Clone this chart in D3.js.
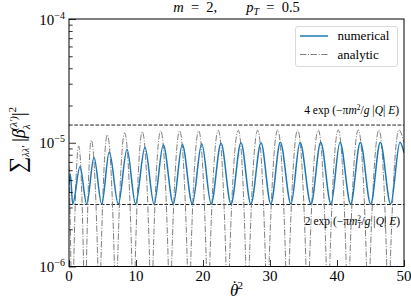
<!DOCTYPE html>
<html>
<head>
<meta charset="utf-8">
<script src="https://cdnjs.cloudflare.com/ajax/libs/d3/7.8.5/d3.min.js"></script>
<style>
	body { margin: 0; background: #fff; }
	text { font-family: 'Liberation Serif', 'DejaVu Serif', serif; fill: #000; }
	.axis path { display: none; }
	.axis line { stroke: #000; stroke-width: 0.8; }
</style>
</head>
<body>
<div id="chart"></div>
<script>
// |beta|^2 vs theta-dot^2, numerical vs analytic

var numericalX = [0, 0.2, 0.55,
	1.64, 2.64, 3.73, 4.88, 6.01, 7.36, 8.66, 9.93, 11.34, 12.69,
	14.07, 15.57, 16.91, 18.40, 19.81, 21.22, 22.69, 24.18, 25.67, 27.14,
	28.66, 30.12, 31.54, 33.13, 34.48, 36.12, 37.57, 39.10, 40.45, 42.04,
	43.48, 45.03, 46.46, 48.01, 49.40, 50]
var numericalY = [4.6e-6, 5.6e-6, 3.2e-6,
	6.4e-6, 3.2e-6, 7.6e-6, 3.2e-6, 8.4e-6, 3.2e-6, 8.85e-6, 3.2e-6, 9.2e-6, 3.2e-6,
	9.6e-6, 3.2e-6, 9.7e-6, 3.2e-6, 9.8e-6, 3.2e-6, 9.9e-6, 3.2e-6, 1.0e-5, 3.2e-6,
	1.0e-5, 3.2e-6, 1.01e-5, 3.2e-6, 1.01e-5, 3.2e-6, 1.01e-5, 3.2e-6, 1.01e-5, 3.2e-6,
	1.01e-5, 3.2e-6, 1.01e-5, 3.2e-6, 1.01e-5, 8.3e-6]

var analyticX = [0, 0.30, 0.49,
	0.68, 1.45, 2.20, 2.39,
	2.60, 3.33, 4.31, 4.52,
	4.77, 5.72, 6.76, 7.01,
	7.27, 8.31, 9.37, 9.63,
	9.90, 10.94, 12.02, 12.28,
	12.56, 13.69, 14.79, 15.07,
	15.35, 16.52, 17.63, 17.91,
	18.19, 19.36, 20.47, 20.75,
	21.04, 22.28, 23.40, 23.69,
	23.98, 25.27, 26.35, 26.64,
	26.94, 28.16, 29.30, 29.60,
	29.90, 31.15, 32.31, 32.61,
	32.91, 34.13, 35.33, 35.63,
	35.93, 37.21, 38.36, 38.66,
	38.96, 40.19, 41.34, 41.64,
	41.94, 43.18, 44.37, 44.67,
	44.97, 46.27, 47.39, 47.69,
	47.99, 49.25, 50]
var analyticY = [6.5e-6, 9e-7, 1e-7,
	9e-7, 9.4e-6, 9e-7, 1e-7,
	1.0e-6, 1.05e-5, 1.0e-6, 1e-7,
	1.11e-6, 1.16e-5, 1.11e-6, 1e-7,
	1.15e-6, 1.2e-5, 1.15e-6, 1e-7,
	1.17e-6, 1.23e-5, 1.17e-6, 1e-7,
	1.19e-6, 1.25e-5, 1.19e-6, 1e-7,
	1.19e-6, 1.25e-5, 1.19e-6, 1e-7,
	1.19e-6, 1.25e-5, 1.19e-6, 1e-7,
	1.2e-6, 1.26e-5, 1.2e-6, 1e-7,
	1.2e-6, 1.26e-5, 1.2e-6, 1e-7,
	1.2e-6, 1.26e-5, 1.2e-6, 1e-7,
	1.21e-6, 1.27e-5, 1.21e-6, 1e-7,
	1.21e-6, 1.27e-5, 1.21e-6, 1e-7,
	1.21e-6, 1.27e-5, 1.21e-6, 1e-7,
	1.21e-6, 1.27e-5, 1.21e-6, 1e-7,
	1.21e-6, 1.27e-5, 1.21e-6, 1e-7,
	1.21e-6, 1.27e-5, 1.21e-6, 1e-7,
	1.21e-6, 1.27e-5, 1.0e-5]

var boundValues = [1.39e-5, 3.17e-6]
var xTicks = [0, 10, 20, 30, 40, 50]
var yTicks = [1e-4, 1e-5, 1e-6]
var yTickExp = ['\u22124', '\u22125', '\u22126']
var legendLabels = ['numerical', 'analytic']

var width = 411,
	height = 300,
	plotLeft = 69,
	plotRight = 404,
	plotTop = 19,
	plotBottom = 266.5,
	blue = '#1f77b4',
	gray = '#7f7f7f'

var x = d3.scaleLinear().domain([0, 50]).range([plotLeft, plotRight])
var y = d3.scaleLog().domain([1e-6, 1e-4]).range([plotBottom, plotTop])

var svg = d3.select('#chart').append('svg')
	.attr('width', width)
	.attr('height', height)

svg.append('clipPath').attr('id', 'clip')
	.append('rect')
	.attr('x', plotLeft).attr('y', plotTop)
	.attr('width', plotRight - plotLeft).attr('height', plotBottom - plotTop)

var line = d3.line()
	.x(function(d) { return x(d[0]) })
	.y(function(d) { return y(d[1]) })
	.curve(d3.curveMonotoneX)

var plot = svg.append('g').attr('clip-path', 'url(#clip)')

// bound lines
plot.selectAll('line.bound').data(boundValues)
	.enter().append('line')
	.classed('bound', true)
	.attr('x1', plotLeft).attr('x2', plotRight)
	.attr('y1', function(d) { return y(d) })
	.attr('y2', function(d) { return y(d) })
	.style('stroke', '#222')
	.style('stroke-width', 1)
	.style('stroke-dasharray', '3.7,1.6')

// annotations
function expLabel(sel, pre, sub) {
	sel.append('tspan').text(pre + ' exp (\u2212\u03c0')
	sel.append('tspan').style('font-style', 'italic').text('m')
	sel.append('tspan').attr('dy', -4).style('font-size', '7.5px').text('2')
	if (sub) {
		sel.append('tspan').attr('dx', -3.8).attr('dy', 7).style('font-size', '7.5px').style('font-style', 'italic').text(sub)
		sel.append('tspan').attr('dy', -3).text('/')
	} else {
		sel.append('tspan').attr('dy', 4).text('/')
	}
	sel.append('tspan').style('font-style', 'italic').text('g')
	sel.append('tspan').text(' |')
	sel.append('tspan').style('font-style', 'italic').text('Q')
	sel.append('tspan').text('| ')
	sel.append('tspan').style('font-style', 'italic').text('E')
	sel.append('tspan').text(')')
}

svg.append('text')
	.attr('x', 399).attr('y', 114)
	.attr('text-anchor', 'end')
	.style('font-size', '11.5px')
	.call(expLabel, '4', null)

svg.append('text')
	.attr('x', 400).attr('y', 224.5)
	.attr('text-anchor', 'end')
	.style('font-size', '11.5px')
	.call(expLabel, '2', 'T')

plot.append('path')
	.datum(analyticX.map(function(v, i) { return [v, analyticY[i]] }))
	.attr('d', line)
	.style('fill', 'none')
	.style('stroke', gray)
	.style('stroke-width', 1)
	.style('stroke-dasharray', '6.4,1.6,1,1.6')

plot.append('path')
	.datum(numericalX.map(function(v, i) { return [v, numericalY[i]] }))
	.attr('d', line)
	.style('fill', 'none')
	.style('stroke', blue)
	.style('stroke-width', 1.5)

// axes, ticks inward
svg.append('g').classed('axis', true)
	.attr('transform', 'translate(0,' + plotBottom + ')')
	.call(d3.axisBottom(x).tickValues(xTicks).tickSize(-6.5).tickFormat(''))

svg.append('g').classed('axis', true)
	.attr('transform', 'translate(' + plotLeft + ',0)')
	.call(d3.axisLeft(y).tickValues(yTicks).tickSize(-7).tickFormat(''))

svg.append('g').classed('axis', true)
	.attr('transform', 'translate(' + plotLeft + ',0)')
	.call(d3.axisLeft(y).tickValues(y.ticks().filter(function(d) {
		return yTicks.indexOf(d) < 0
	})).tickSize(-3.7).tickFormat(''))

svg.append('rect')
	.attr('x', plotLeft).attr('y', plotTop)
	.attr('width', plotRight - plotLeft).attr('height', plotBottom - plotTop)
	.style('fill', 'none')
	.style('stroke', '#000')
	.style('stroke-width', 1)

svg.selectAll('text.xtick').data(xTicks)
	.enter().append('text')
	.classed('xtick', true)
	.attr('x', function(d) { return x(d) })
	.attr('y', 281)
	.attr('text-anchor', 'middle')
	.style('font-size', '15px')
	.text(function(d) { return d })

var ytl = svg.selectAll('text.ytick').data(yTicks)
	.enter().append('text')
	.classed('ytick', true)
	.attr('x', 65)
	.attr('y', function(d) { return y(d) + 5.5 })
	.attr('text-anchor', 'end')
	.style('font-size', '15px')
ytl.append('tspan').text('10')
ytl.append('tspan')
	.attr('dy', -6)
	.style('font-size', '10px')
	.text(function(d, i) { return yTickExp[i] })

// title
var title = svg.append('text')
	.attr('x', (plotLeft + plotRight) / 2).attr('y', 12)
	.attr('text-anchor', 'middle')
	.style('font-size', '14.5px')
title.append('tspan').style('font-style', 'italic').text('m')
title.append('tspan').text('\u2002=\u20022,\u2003\u2003')
title.append('tspan').style('font-style', 'italic').text('p')
title.append('tspan').attr('dy', 3).style('font-size', '10px').style('font-style', 'italic').text('T')
title.append('tspan').attr('dy', -3).text('\u2002=\u20020.5')

// x label
var xl = svg.append('text')
	.attr('x', (plotLeft + plotRight) / 2).attr('y', 296)
	.attr('text-anchor', 'middle')
	.style('font-size', '17px')
xl.append('tspan').style('font-style', 'italic').text('\u03b8')
xl.append('tspan').attr('dx', -6.5).attr('dy', -4).text('\u02d9')
xl.append('tspan').attr('dy', -3).style('font-size', '11px').text('2')

// y label
var yl = svg.append('text')
	.attr('transform', 'translate(25,140) rotate(-90)')
	.attr('text-anchor', 'middle')
	.style('font-size', '18px')
yl.append('tspan').style('font-size', '23px').text('\u2211')
yl.append('tspan').attr('dy', 4).style('font-size', '10px').style('font-style', 'italic').text('\u03bb\u03bb\u2032')
yl.append('tspan').attr('dy', -4).attr('dx', 4).text('|')
yl.append('tspan').style('font-style', 'italic').text('\u03b2')
yl.append('tspan').attr('dy', 5).style('font-size', '11px').style('font-style', 'italic').text('\u03bb')
yl.append('tspan').attr('dy', -13).attr('dx', -6).style('font-size', '11px').style('font-style', 'italic').text('(\u03bb\u2032)')
yl.append('tspan').attr('dy', 8).text('|')
yl.append('tspan').attr('dy', -9).style('font-size', '11px').text('2')

// legend
var legend = svg.append('g')
legend.append('rect')
	.attr('x', 295.5).attr('y', 26.5)
	.attr('width', 102).attr('height', 40)
	.attr('rx', 2.5)
	.style('fill', '#fff')
	.style('fill-opacity', 0.8)
	.style('stroke', '#d0d0d0')
	.style('stroke-width', 0.8)

legend.selectAll('line.key').data(legendLabels)
	.enter().append('line')
	.classed('key', true)
	.attr('x1', 300).attr('x2', 328)
	.attr('y1', function(d, i) { return 36 + i * 18.5 })
	.attr('y2', function(d, i) { return 36 + i * 18.5 })
	.style('stroke', function(d, i) { return i === 0 ? blue : gray })
	.style('stroke-width', function(d, i) { return i === 0 ? 1.5 : 1 })
	.style('stroke-dasharray', function(d, i) { return i === 0 ? null : '6.4,1.6,1,1.6' })

legend.selectAll('text.key').data(legendLabels)
	.enter().append('text')
	.classed('key', true)
	.attr('x', 337.5)
	.attr('y', function(d, i) { return 40 + i * 18.5 })
	.style('font-size', '13px')
	.text(function(d) { return d })
</script>
</body>
</html>
